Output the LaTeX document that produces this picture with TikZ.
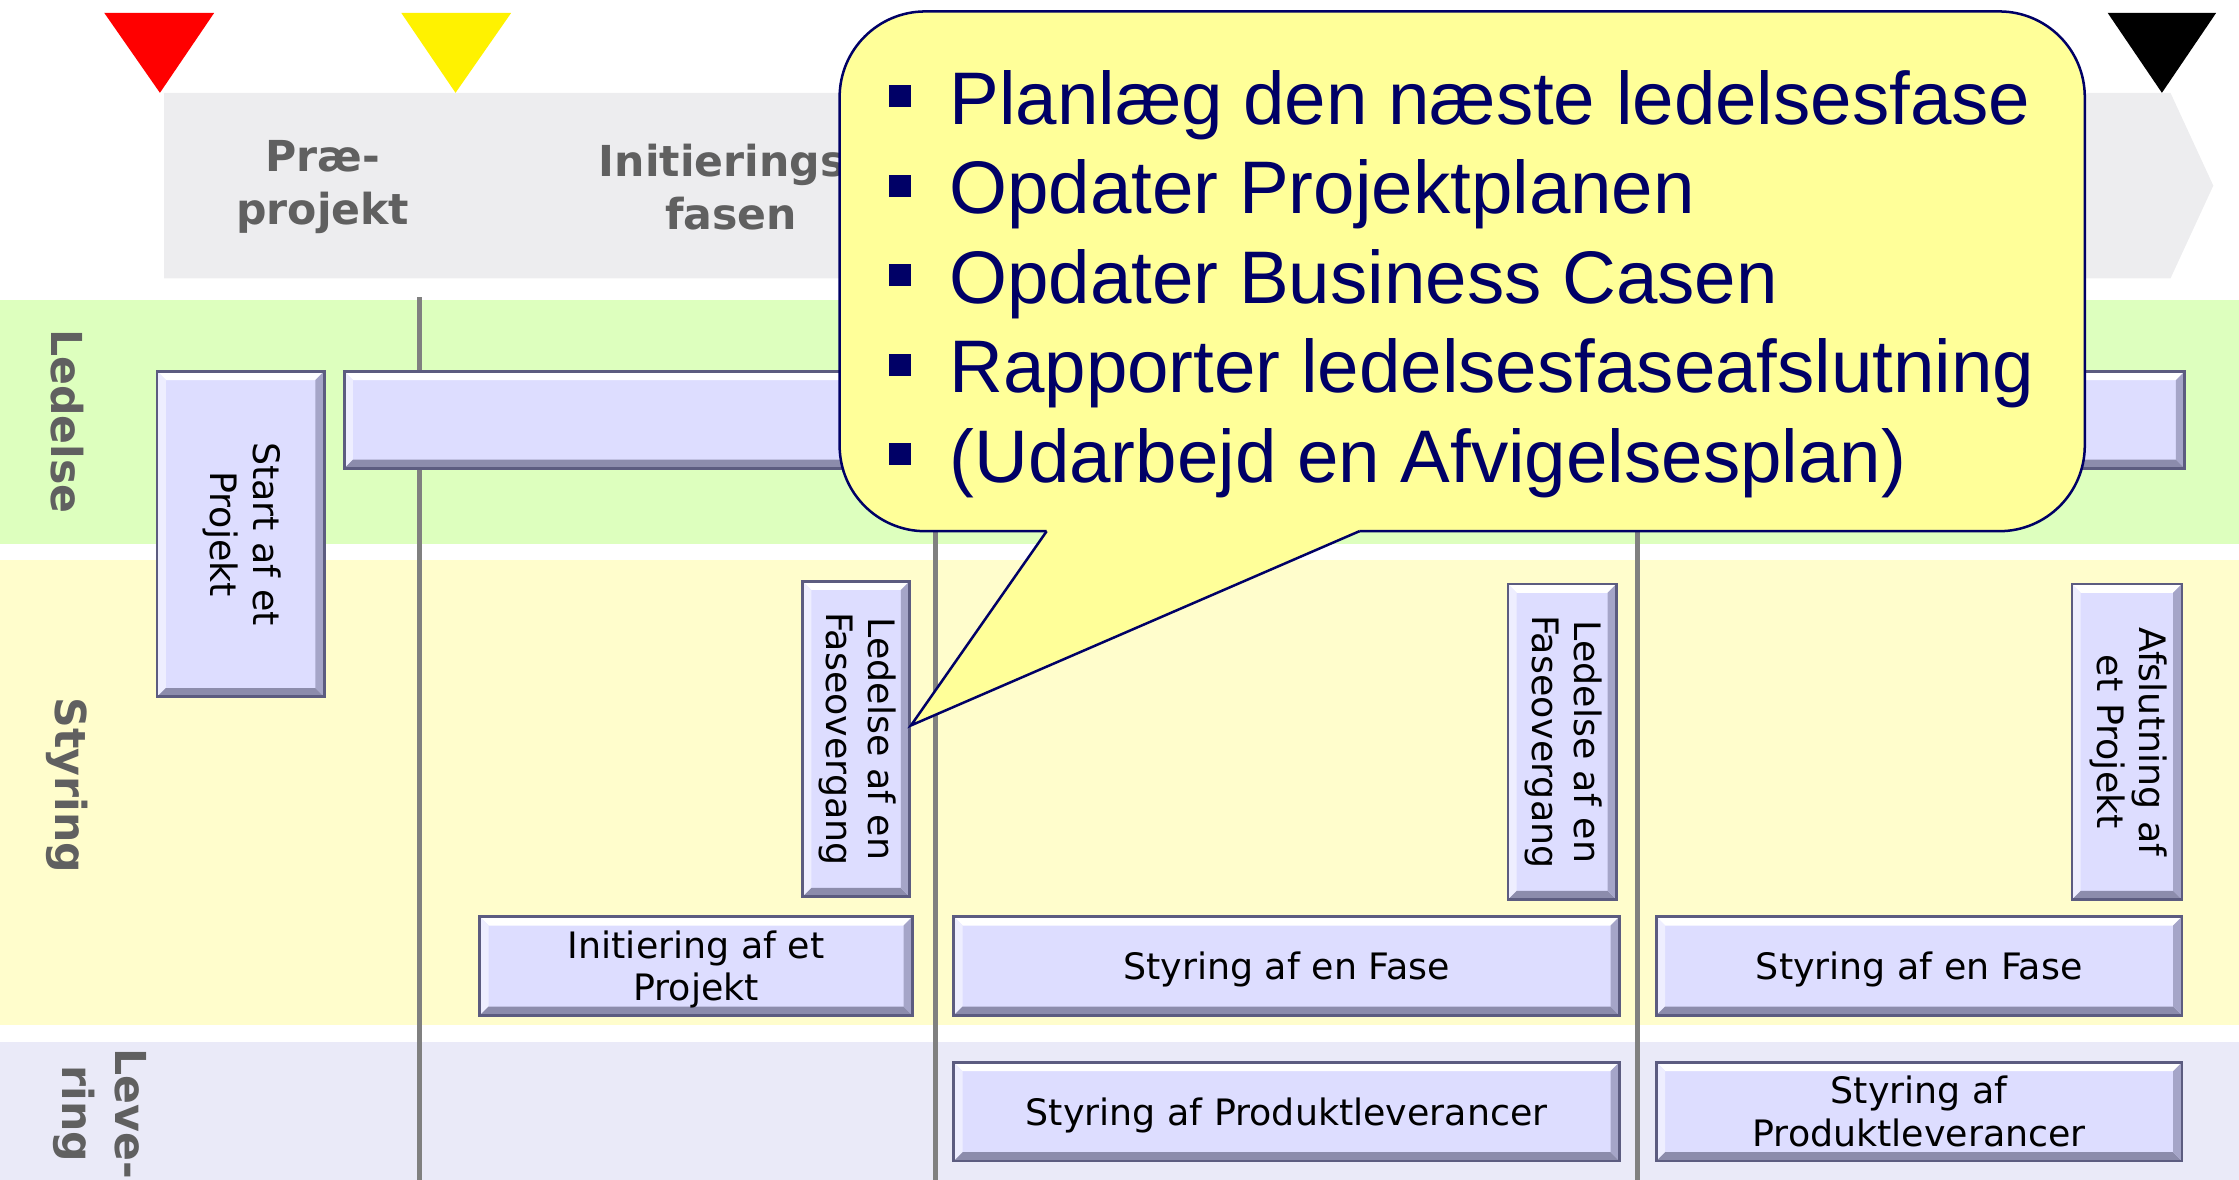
\documentclass[tikz,border=0pt]{standalone}
\usepackage{fontspec}
\setmainfont{DejaVu Sans}
\newfontfamily\boblefont{Liberation Sans}
\usepackage{graphicx}

\definecolor{graabaand}{RGB}{237,237,239}
\definecolor{groenbaand}{RGB}{221,255,190}
\definecolor{gulbaand}{RGB}{255,253,204}
\definecolor{lillabaand}{RGB}{234,234,248}
\definecolor{boksfyld}{RGB}{221,221,255}
\definecolor{boksrand}{RGB}{92,92,128}
\definecolor{boksmoerk}{RGB}{140,140,172}
\definecolor{boksmellem}{RGB}{165,165,200}
\definecolor{bokslys}{RGB}{238,238,255}
\definecolor{etiketgraa}{RGB}{96,96,96}
\definecolor{linjegraa}{RGB}{128,128,128}
\definecolor{boblefyld}{RGB}{255,255,153}
\definecolor{moerkblaa}{RGB}{0,0,102}

\newcommand{\vtekst}[1]{\rotatebox{-90}{\begin{tabular}{@{}c@{}}#1\end{tabular}}}
\newcommand{\htekst}[1]{\raisebox{-2pt}[\height][\depth]{\begin{tabular}{@{}c@{}}#1\end{tabular}}}

\begin{document}
\begin{tikzpicture}[
    x=0.02cm, y=-0.02cm,
    maal/.style 2 args={minimum width=#1*0.02cm, minimum height=#2*0.02cm},
    boks/.style={rectangle, draw=boksrand, line width=1.1pt, fill=boksfyld, inner sep=0pt, align=center,
        font=\fontsize{14.5}{17}\selectfont,
        path picture={
            \coordinate (nv) at (path picture bounding box.north west);
            \coordinate (no) at (path picture bounding box.north east);
            \coordinate (sv) at (path picture bounding box.south west);
            \coordinate (so) at (path picture bounding box.south east);
            \fill[white] (nv) -- (no) -- ([shift={(-3.5pt,-3.5pt)}]no) -- ([shift={(3.5pt,-3.5pt)}]nv) -- cycle;
            \fill[bokslys] (nv) -- ([shift={(3.5pt,-3.5pt)}]nv) -- ([shift={(3.5pt,3.5pt)}]sv) -- (sv) -- cycle;
            \fill[boksmoerk] (sv) -- (so) -- ([shift={(-3.5pt,3.5pt)}]so) -- ([shift={(3.5pt,3.5pt)}]sv) -- cycle;
            \fill[boksmellem] (so) -- (no) -- ([shift={(-3.5pt,-3.5pt)}]no) -- ([shift={(-3.5pt,3.5pt)}]so) -- cycle;
        }},
    etiket/.style={font=\fontsize{17}{21}\selectfont\bfseries, text=etiketgraa, align=center},
    punkt/.style={font=\boblefont\fontsize{29.7}{36}\selectfont, text=moerkblaa, anchor=base west, inner sep=0pt}
]
    \useasboundingbox (0,0) rectangle (1568,826);

    % baand
    \fill[groenbaand] (0,210) rectangle (1568,381);
    \fill[gulbaand] (0,392) rectangle (1568,718);
    \fill[lillabaand] (0,730) rectangle (1568,826);
    \fill[graabaand] (115,65) -- (1520,65) -- (1550,130) -- (1520,195) -- (115,195) -- cycle;

    % milepaele
    \fill[red] (73,9) -- (150,9) -- (112,65) -- cycle;
    \fill[yellow] (281,9) -- (358,9) -- (319,65) -- cycle;
    \fill[black] (1476,9) -- (1552,9) -- (1514,65) -- cycle;

    % skillelinjer
    \foreach \x in {294, 655, 1147}
        \draw[linjegraa, line width=2.1pt] (\x,208) -- (\x,826);

    % etiketter
    \node[etiket] (praeprojekt) at (226,131) {Præ-\\projekt};
    \node[etiket] (initfase) at (512,131) {Initierings-\\fasen};
    \node[etiket, rotate=-90] (ledelse) at (47,295) {Ledelse};
    \node[etiket, rotate=-90] (styring) at (47,550) {Styring};
    \node[etiket, rotate=-90] (levering) at (70,780) {Leve-\\ring};

    % processer
    \node[boks, maal={117}{228}] (startprojekt) at (168.5,374) {\vtekst{Start af et\\Projekt}};
    \node[boks, maal={1289}{68}] (ledelsebar) at (885.5,294) {};
    \node[boks, maal={75}{221}] (overgang1) at (599.5,517.5) {\vtekst{Ledelse af en\\Faseovergang}};
    \node[boks, maal={76}{221}] (overgang2) at (1094,519.5) {\vtekst{Ledelse af en\\Faseovergang}};
    \node[boks, maal={77}{221}] (afslutning) at (1489.5,519.5) {\vtekst{Afslutning af\\et Projekt}};
    \node[boks, maal={303}{69}] (initiering) at (487.5,676.5) {\htekst{Initiering af et\\Projekt}};
    \node[boks, maal={466}{69}] (fase1) at (901,676.5) {\htekst{Styring af en Fase}};
    \node[boks, maal={368}{69}] (fase2) at (1344,676.5) {\htekst{Styring af en Fase}};
    \node[boks, maal={466}{69}] (levering1) at (901,778.5) {\htekst{Styring af Produktleverancer}};
    \node[boks, maal={368}{69}] (levering2) at (1344,778.5) {\htekst{Styring af\\Produktleverancer}};

    % taleboble
    \coordinate (spids) at ([yshift=0.19cm]overgang1.east);
    \filldraw[fill=boblefyld, draw=moerkblaa, line width=1pt, rounded corners=1.2cm] (588,8) rectangle (1460,372);
    \fill[boblefyld] (733,366) -- (733,372) -- (spids) -- (952,372) -- (952,366) -- cycle;
    \draw[moerkblaa, line width=1pt] (733,372) -- (spids) -- (952,372);

    \foreach \t [count=\i] in {Planlæg den næste ledelsesfase, Opdater Projektplanen, Opdater Business Casen, Rapporter ledelsesfaseafslutning, {(Udarbejd en Afvigelsesplan)}}
        \node[punkt] (punkt\i) at (622,{87+(\i-1)*62.7}) {\rule[6.8pt]{8.7pt}{8.7pt}\hspace{15.5pt}\t};
\end{tikzpicture}
\end{document}
